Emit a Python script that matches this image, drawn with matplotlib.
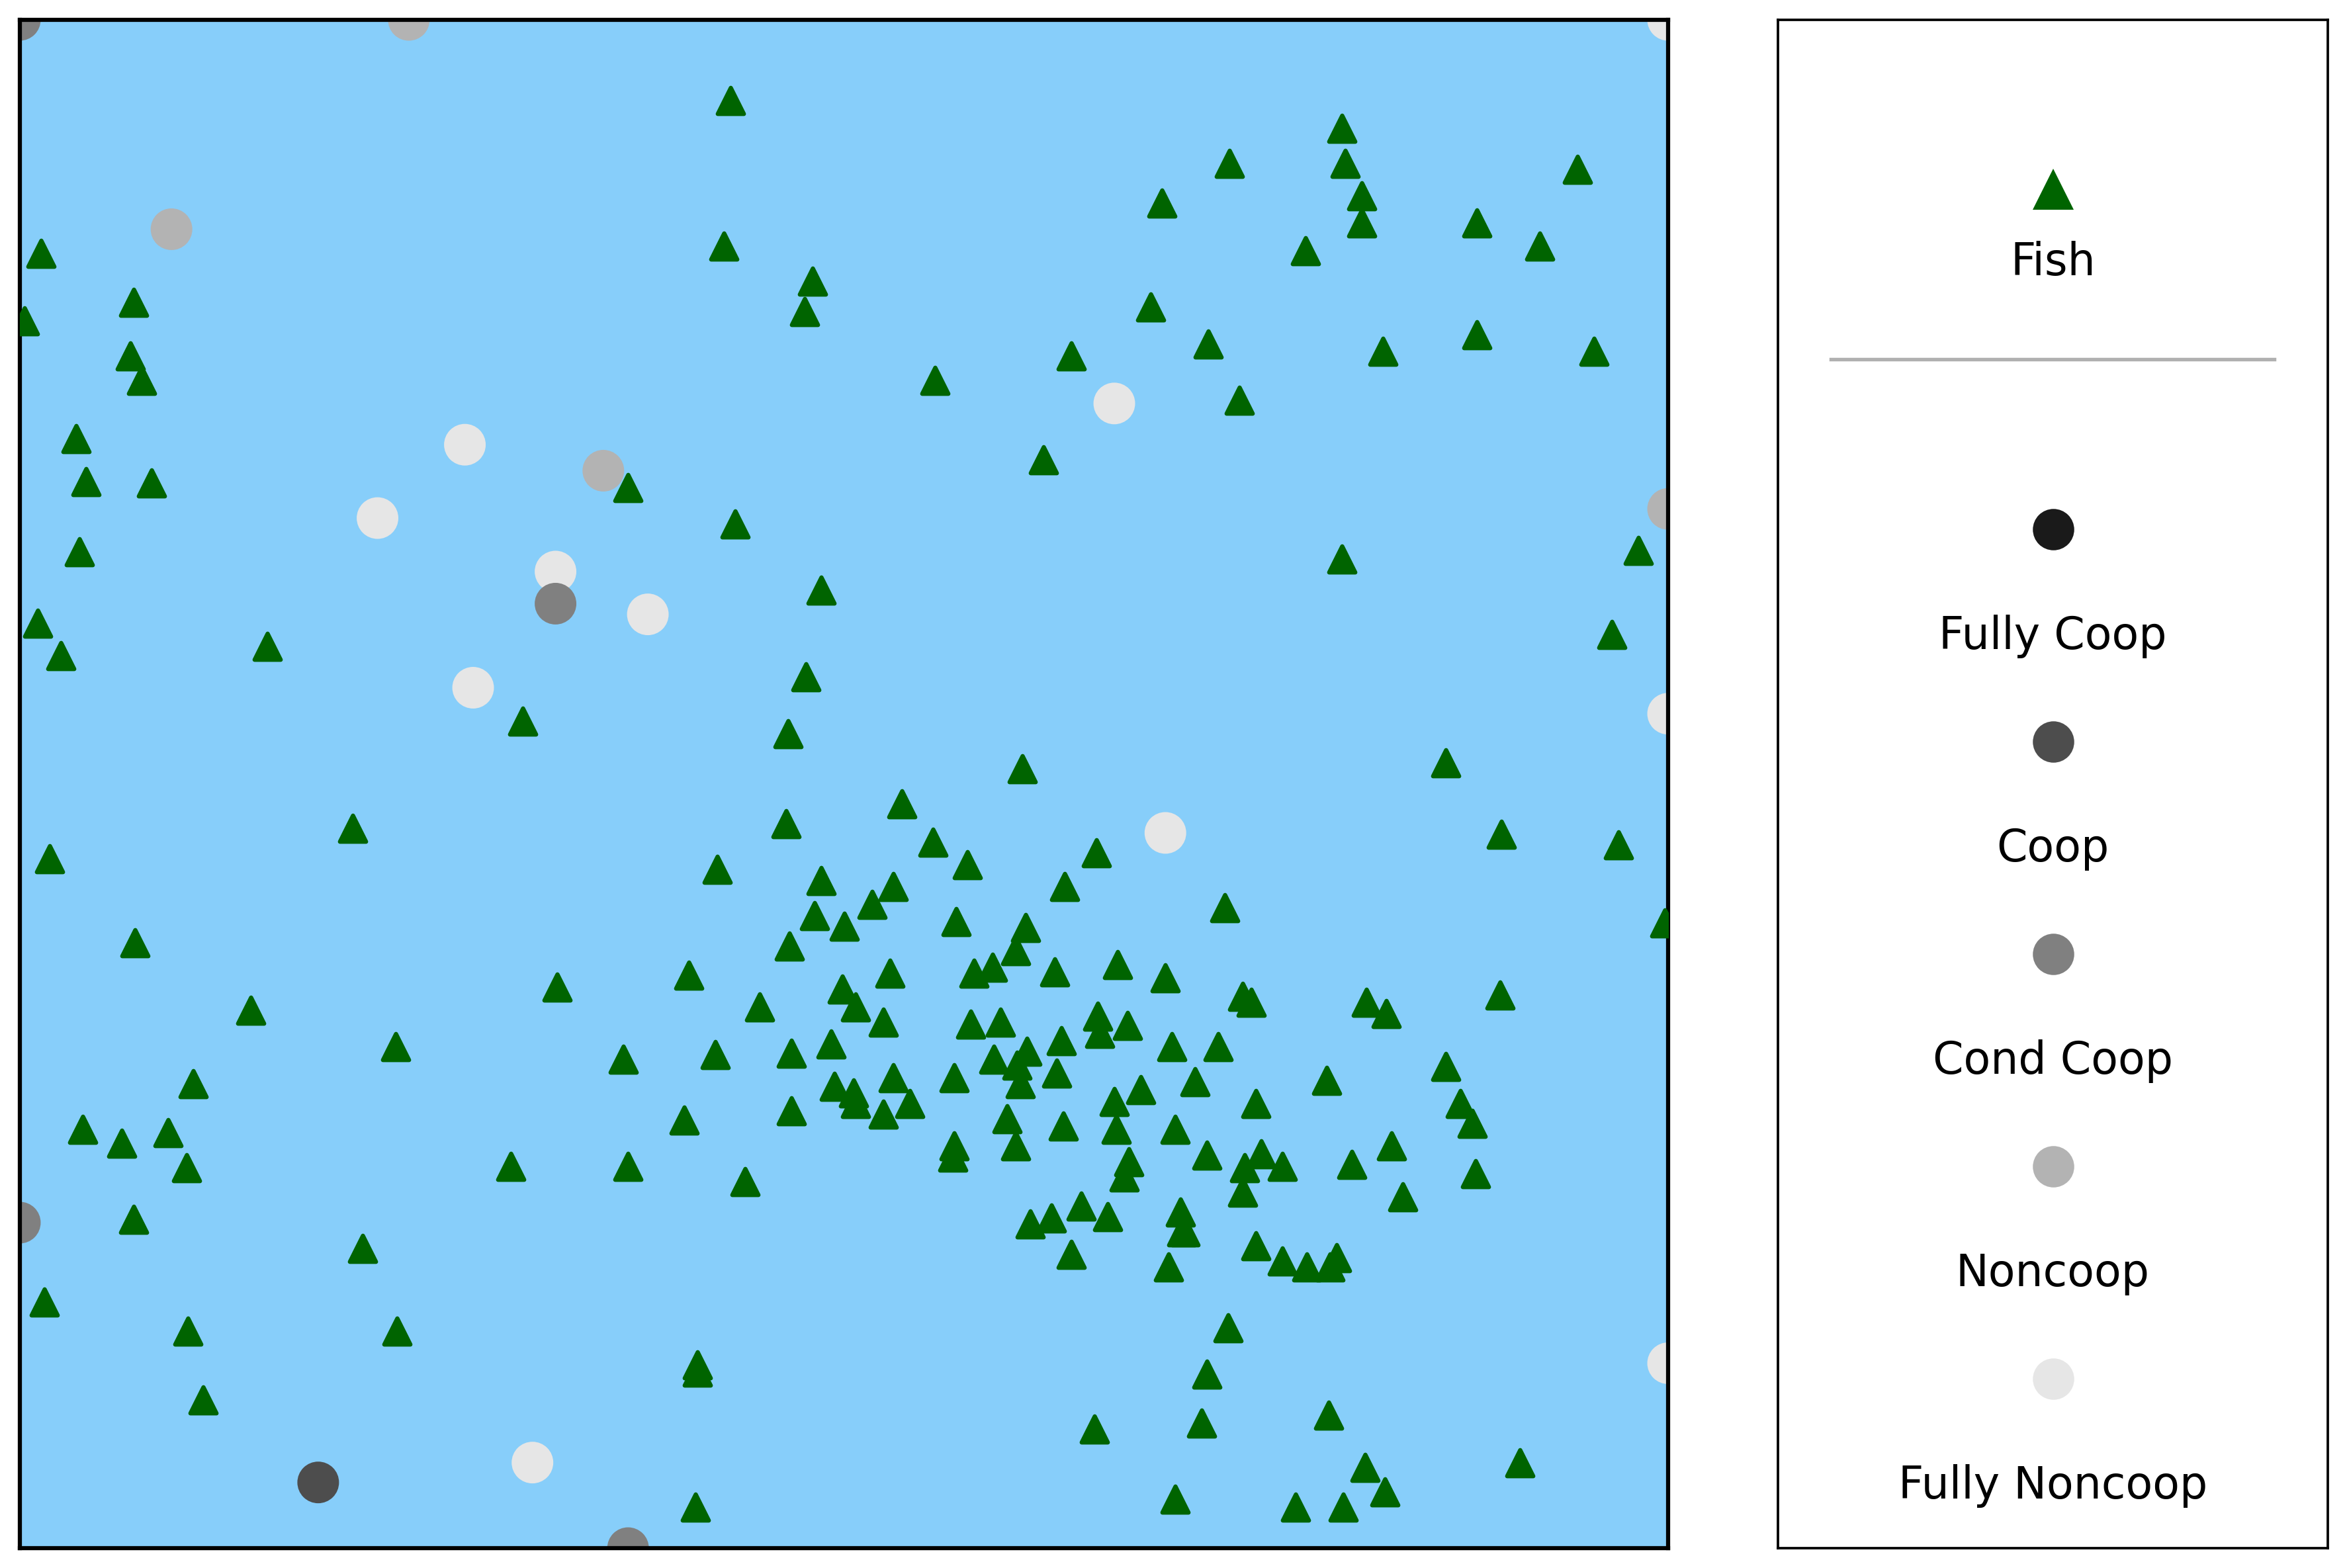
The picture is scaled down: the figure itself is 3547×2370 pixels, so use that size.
import matplotlib.pyplot as plt

# Fish positions
fish_x = [43.1, 80.2, 73.4, 80.4, 94.5, 81.4, 69.3, 81.4, 88.4, 92.2,
          42.7, 78.0, 1.3, 48.1, 6.9, 68.6, 47.6, 0.3, 72.1, 88.4,
          82.7, 95.5, 63.8, 6.7, 7.4, 55.5, 74.0, 3.4, 62.1, 4.0,
          8.0, 36.9, 43.4, 3.6, 80.2, 98.2, 48.6, 1.1, 96.6, 15.0,
          2.5, 47.7, 30.5, 46.6, 86.5, 60.8, 53.5, 46.5, 20.2, 89.9,
          55.4, 97.0, 65.3, 1.8, 57.5, 42.3, 48.6, 53.0, 63.4, 51.7,
          48.2, 50.0, 73.1, 99.8, 56.8, 61.0, 46.7, 60.4, 7.0, 59.0,
          57.9, 66.6, 52.8, 62.8, 40.6, 69.5, 32.6, 49.9, 74.2, 74.7,
          81.7, 82.9, 89.8, 44.9, 14.0, 50.7, 65.4, 57.7, 59.5, 52.4,
          67.2, 65.5, 49.2, 63.2, 22.8, 69.9, 72.7, 46.8, 42.2, 36.6,
          59.1, 61.1, 60.5, 56.7, 53.0, 62.9, 86.5, 60.7, 79.3, 10.5,
          71.3, 49.4, 50.6, 50.7, 54.0, 52.4, 68.0, 66.4, 75.0, 87.4,
          46.8, 59.9, 66.5, 63.3, 70.1, 88.1, 40.3, 3.8, 9.0, 6.2,
          60.4, 56.7, 83.2, 75.3, 72.0, 67.3, 56.6, 10.1, 29.8, 36.9,
          76.6, 80.8, 74.3, 67.0, 88.3, 44.0, 74.2, 83.9, 6.9, 64.4,
          62.6, 70.4, 66.0, 61.3, 70.5, 70.7, 75.0, 20.8, 63.8, 76.6,
          79.9, 78.1, 79.5, 69.7, 1.5, 10.2, 22.9, 73.3, 41.1, 41.1,
          72.0, 11.1, 79.4, 71.7, 65.2, 81.6, 91.0, 82.8, 70.1, 41.0,
          77.4, 80.3]
fish_y = [94.7, 92.9, 90.6, 90.6, 90.2, 88.5, 88.0, 86.7, 86.7, 85.2,
          85.2, 84.9, 84.7, 82.9, 81.5, 81.2, 80.9, 80.3, 78.8, 79.4,
          78.3, 78.3, 78.0, 78.0, 76.4, 76.4, 75.1, 72.6, 71.2, 69.8,
          69.7, 69.4, 67.0, 65.2, 64.7, 65.3, 62.7, 60.5, 59.8, 59.0,
          58.4, 57.0, 54.1, 53.3, 51.4, 51.0, 48.7, 47.4, 47.1, 46.7,
          46.2, 46.0, 45.5, 45.1, 44.7, 44.4, 43.7, 43.3, 43.3, 42.1,
          41.4, 40.7, 41.9, 40.9, 41.0, 40.6, 39.4, 39.1, 39.6, 38.0,
          37.6, 38.2, 37.6, 37.7, 37.5, 37.3, 36.7, 36.6, 36.1, 35.7,
          35.7, 35.0, 36.2, 35.4, 35.2, 35.4, 34.8, 34.3, 34.4, 34.4,
          34.2, 33.7, 33.0, 33.2, 32.8, 32.8, 32.8, 32.4, 32.3, 32.0,
          32.0, 32.5, 31.6, 30.8, 30.8, 31.1, 31.5, 30.4, 30.6, 30.4,
          30.5, 30.2, 29.8, 29.1, 29.1, 28.4, 30.0, 29.2, 29.1, 29.1,
          28.6, 28.1, 27.4, 27.6, 27.4, 27.8, 28.0, 27.4, 27.2, 26.5,
          26.3, 26.3, 26.3, 25.8, 25.7, 25.3, 25.6, 24.9, 25.0, 25.0,
          25.0, 25.1, 24.9, 24.3, 24.5, 24.0, 23.3, 23.0, 21.5, 22.4,
          21.6, 22.0, 21.7, 21.2, 20.7, 20.7, 19.8, 19.6, 19.2, 18.8,
          19.0, 18.4, 18.4, 18.4, 16.1, 14.2, 14.2, 14.4, 12.0, 11.5,
          11.4, 9.7, 8.7, 8.2, 7.8, 5.3, 5.6, 3.7, 3.2, 2.7,
          2.7, 2.7]

# Fisher agents
agent_x = [0.0, 23.6, 100.0, 9.2, 66.4, 27.0, 35.4, 21.7, 32.5, 32.5,
           38.1, 27.5, 100.0, 100.0, 69.5, 0.0, 100.0, 31.1, 18.1, 36.9]
agent_y = [100.0, 100.0, 100.0, 86.3, 74.9, 72.2, 70.5, 67.4, 63.9, 61.8,
           61.1, 56.3, 68.0, 54.6, 46.8, 21.3, 12.1, 5.6, 4.3, 0.0]
agent_type = ['Cond Coop', 'Noncoop', 'Fully Noncoop', 'Noncoop', 'Fully Noncoop',
              'Fully Noncoop', 'Noncoop', 'Fully Noncoop', 'Fully Noncoop', 'Cond Coop',
              'Fully Noncoop', 'Fully Noncoop', 'Noncoop', 'Fully Noncoop', 'Fully Noncoop',
              'Cond Coop', 'Fully Noncoop', 'Fully Noncoop', 'Coop', 'Cond Coop']

strategies = ['Fully Coop', 'Coop', 'Cond Coop', 'Noncoop', 'Fully Noncoop']
strategy_colors = ['#1a1a1a', '#4d4d4d', '#808080', '#b3b3b3', '#e6e6e6']
color_map = dict(zip(strategies, strategy_colors))

fig = plt.figure(figsize=(3547 / 300, 2370 / 300), dpi=300)

# main map
ax = fig.add_axes([30 / 3547, 30 / 2370, 2491 / 3547, 2310 / 2370])
ax.set_facecolor('lightskyblue')
ax.scatter(agent_x, agent_y, s=185, c=[color_map[t] for t in agent_type],
           linewidths=1.5, zorder=2)
ax.scatter(fish_x, fish_y, s=90, marker='^', c='darkgreen', linewidths=1.5, zorder=3)
ax.set_xlim(0, 100)
ax.set_ylim(0, 100)
ax.set_xticks([])
ax.set_yticks([])
for sp in ax.spines.values():
    sp.set_linewidth(1.5)

# legend panel
lax = fig.add_axes([2687 / 3547, 30 / 2370, 831 / 3547, 2310 / 2370])
lax.set_xlim(0, 1)
lax.set_ylim(0, 1)
lax.set_xticks([])
lax.set_yticks([])
for sp in lax.spines.values():
    sp.set_linewidth(0.9)

lax.plot([0.5], [0.889], marker='^', ms=15, mew=0, color='darkgreen', ls='none')
lax.text(0.5, 0.833, 'Fish', ha='center', va='baseline', fontsize=16)
lax.plot([0.096, 0.903], [0.778, 0.778], color='#b0b0b0', lw=1.3)

for i, (name, col) in enumerate(zip(strategies, strategy_colors)):
    lax.plot([0.5], [0.6667 - 0.139 * i], marker='o', ms=15, mew=0, color=col, ls='none')
    lax.text(0.5, 0.5883 - 0.139 * i, name, ha='center', va='baseline', fontsize=16)

fig.savefig('out.png', dpi=300)
